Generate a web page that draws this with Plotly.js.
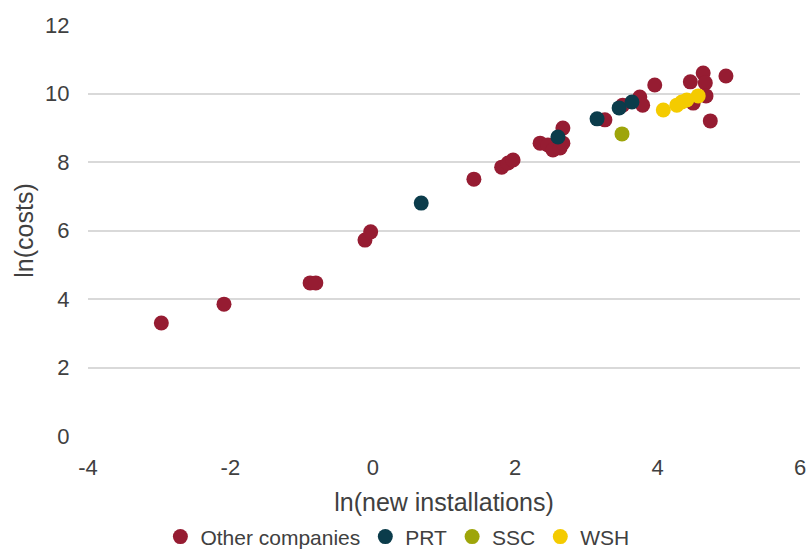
<!DOCTYPE html>
<html>
<head>
<meta charset="utf-8">
<script src="https://cdn.plot.ly/plotly-3.0.1.min.js"></script>
<style>html,body{margin:0;padding:0;background:#fff;}#chart{width:811px;height:549px;}</style>
</head>
<body>
<div id="chart"></div>
<script>
const seriesNames = ["Other companies", "PRT", "SSC", "WSH"];
const otherX = [-2.97, -2.09, -0.88, -0.80, -0.11, -0.03, 1.42, 1.81, 1.90, 1.97, 2.35, 2.46, 2.53, 2.63, 2.67, 2.67, 3.26, 3.51, 3.75, 3.79, 3.96, 4.46, 4.50, 4.64, 4.67, 4.68, 4.74, 4.96];
const otherY = [3.30, 3.85, 4.47, 4.47, 5.72, 5.96, 7.50, 7.85, 7.97, 8.06, 8.55, 8.50, 8.35, 8.41, 8.55, 8.99, 9.23, 9.66, 9.90, 9.66, 10.25, 10.34, 9.72, 10.60, 10.31, 9.93, 9.20, 10.51];
const prtX = [0.68, 2.60, 3.15, 3.46, 3.64];
const prtY = [6.80, 8.73, 9.26, 9.58, 9.75];
const sscX = [3.50];
const sscY = [8.82];
const wshX = [4.08, 4.27, 4.34, 4.41, 4.57];
const wshY = [9.52, 9.66, 9.75, 9.81, 9.93];
const xTicks = [-4, -2, 0, 2, 4, 6];
const yTicks = [0, 2, 4, 6, 8, 10, 12];

const colors = ["#961c32", "#0b3c4b", "#9ea50a", "#f4cb00"];
const xs = [otherX, prtX, sscX, wshX];
const ys = [otherY, prtY, sscY, wshY];

const traces = seriesNames.map((n, i) => ({
  type: "scatter", mode: "markers", name: n,
  x: xs[i], y: ys[i],
  marker: {color: colors[i], size: 15, line: {width: 0}}
}));

const txt = "#404040";
const fam = "Liberation Sans, Arial, sans-serif";
const layout = {
  width: 811, height: 549,
  margin: {l: 88, r: 11, t: 25, b: 113},
  paper_bgcolor: "#fff", plot_bgcolor: "#fff",
  font: {family: fam, color: txt, size: 21},
  showlegend: true,
  legend: {orientation: "h", xref: "container", yref: "container",
           x: 0.49, xanchor: "center", y: 0.022, yanchor: "middle",
           font: {family: fam, size: 21, color: txt}, tracegroupgap: 0},
  xaxis: {
    range: [-4, 6], tickvals: xTicks, ticktext: xTicks.map(String),
    showgrid: false, zeroline: false, showline: false, automargin: false,
    ticks: "outside", ticklen: 12, tickcolor: "rgba(0,0,0,0)",
    tickfont: {size: 22, color: txt},
    title: {text: "ln(new installations)", font: {size: 25, color: txt}, standoff: 16}
  },
  yaxis: {
    range: [0, 12], tickvals: yTicks, ticktext: yTicks.map(String),
    showgrid: true, gridcolor: "#d9d9d9", gridwidth: 2,
    zeroline: false, showline: false, automargin: false,
    ticks: "outside", ticklen: 13, tickcolor: "rgba(0,0,0,0)",
    tickfont: {size: 22, color: txt},
    title: {text: "ln(costs)", font: {size: 25, color: txt}, standoff: 4}
  }
};
Plotly.newPlot("chart", traces, layout, {displayModeBar: false, staticPlot: true});
</script>
</body>
</html>
